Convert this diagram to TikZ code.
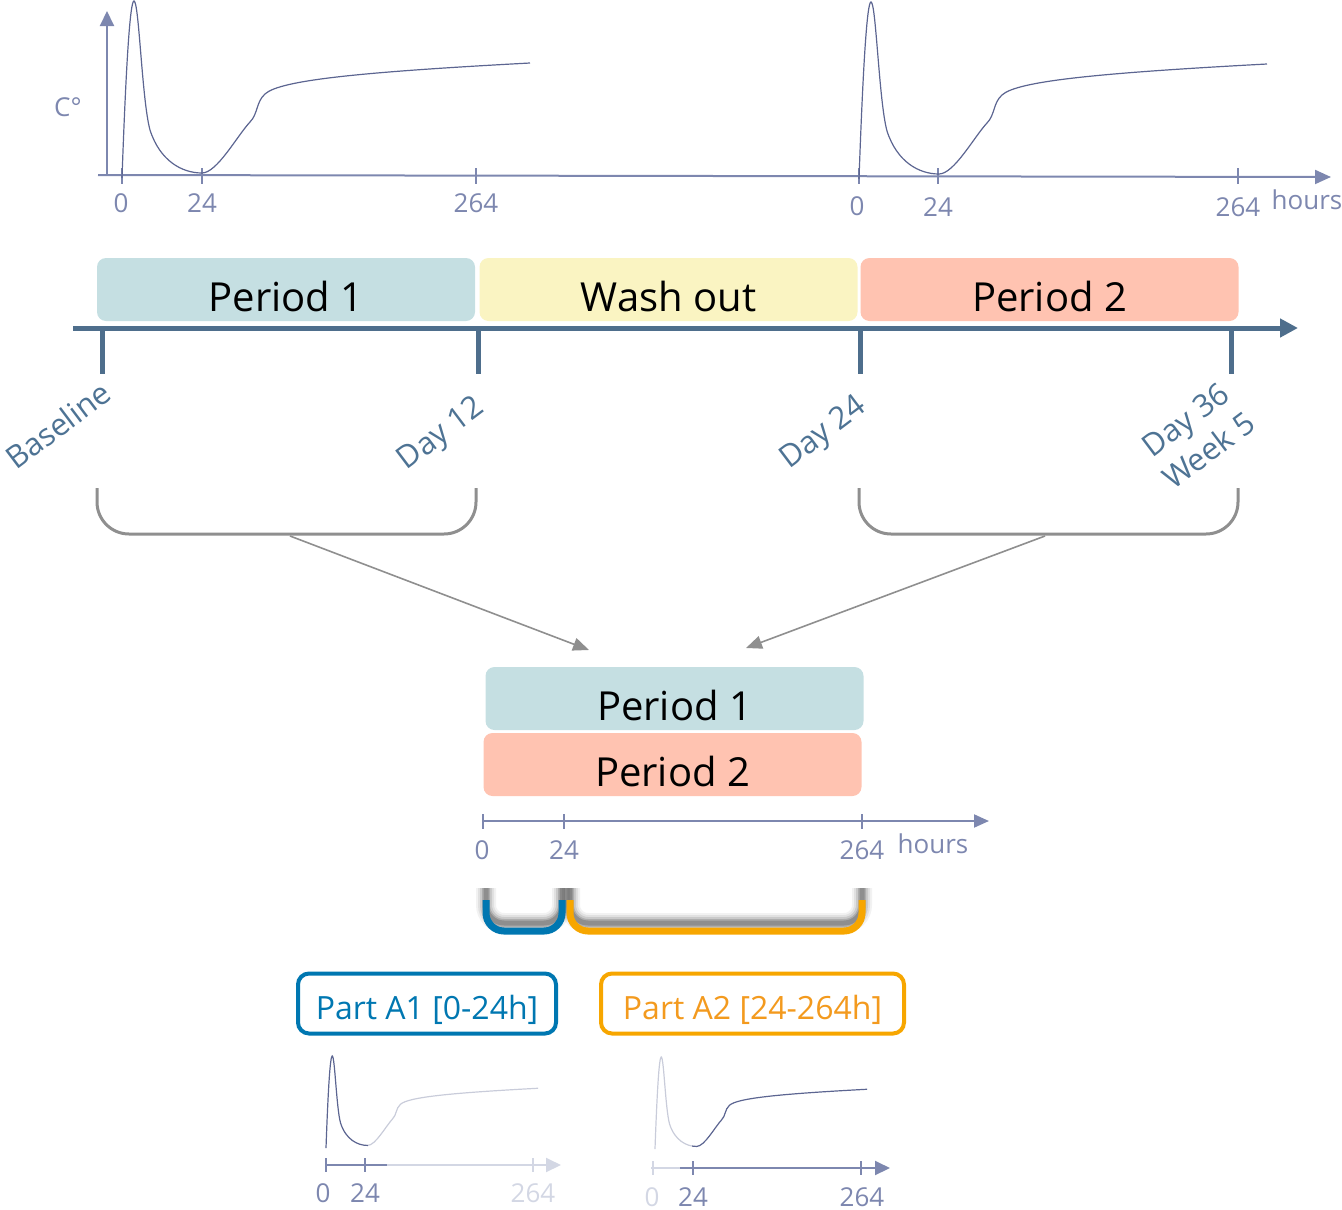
\documentclass[tikz,border=0pt]{standalone}
\usepackage{fontspec}
\setmainfont{Open Sans}
\usetikzlibrary{arrows.meta}

\definecolor{axiscol}{HTML}{7D87AF}
\definecolor{axislight}{HTML}{D3D7E4}
\definecolor{curvecol}{HTML}{5C6591}
\definecolor{curvelight}{HTML}{C9CCDA}
\definecolor{lineblue}{HTML}{4E6E8C}
\definecolor{daycol}{HTML}{4E7394}
\definecolor{bracketgray}{HTML}{8F8F8F}
\definecolor{pone}{HTML}{C5DFE2}
\definecolor{wash}{HTML}{FAF4C2}
\definecolor{ptwo}{HTML}{FFC3B1}
\definecolor{partblue}{HTML}{0077B1}
\definecolor{partorange}{HTML}{F7A600}
\definecolor{parttext}{HTML}{F39A1E}

\tikzset{
  pkcurve/.pic={
    \draw[line width=1.2pt, pic actions]
      (0,2) .. controls (4,-110) and (8,-175) .. (12,-175)
      .. controls (17,-175) and (20,-75) .. (28,-46)
      .. controls (38,-15) and (60,-3) .. (80,-3)
      .. controls (95,-3) and (115,-40) .. (128,-54)
      .. controls (136,-62) and (134,-74) .. (143,-82)
      .. controls (158,-96) and (240,-104) .. (408,-113);
  },
  periodbox/.style={rounded corners=9pt, minimum width=378pt, minimum height=63pt,
    inner sep=0pt, text height=43pt, text depth=0pt, text=black,
    font=\fontsize{40}{48}\selectfont},
  partbox/.style={rounded corners=11pt, line width=4pt, minimum height=60pt,
    inner sep=0pt, text height=32pt, text depth=0pt,
    font=\fontsize{32}{36}\selectfont},
  daylabel/.style={rotate=37, text=daycol, align=center,
    font=\fontsize{31}{39}\selectfont},
  axislabel/.style={text=axiscol, inner sep=0pt, font=\fontsize{26}{30}\selectfont},
  chartaxis/.style={draw=axiscol, line width=2pt},
  graybracket/.style={draw=bracketgray, line width=3pt, rounded corners=32pt},
  grayarrow/.style={draw=bracketgray, line width=1.6pt,
    -{Triangle[length=16pt,width=13pt]}},
  colbracket/.style={line width=7pt, rounded corners=18pt}
}

\begin{document}
\begin{tikzpicture}[x=1pt, y=-1pt]
\useasboundingbox (0,0) rectangle (1342,1210);

% ---------- top concentration chart ----------
\draw[chartaxis, -{Triangle[length=15pt,width=14pt]}] (107,176) -- (107,11);
\draw[chartaxis, -{Triangle[length=16pt,width=14pt]}] (98,175) -- (1331,177);
\foreach \x in {122,202,476,859,938,1238}
  \draw[chartaxis] (\x,168) -- (\x,184);
\pic[draw=curvecol] at (122,176) {pkcurve};
\pic[draw=curvecol] at (859,177) {pkcurve};
\node[axislabel] (cdeg) at (68,107) {C°};
\node[axislabel] (ta0) at (121,203) {0};
\node[axislabel] (ta24) at (202,203) {24};
\node[axislabel] (ta264) at (476,203) {264};
\node[axislabel] (tb0) at (857,206) {0};
\node[axislabel] (tb24) at (938,207) {24};
\node[axislabel] (tb264) at (1238,207) {264};
\node[axislabel] (thours) at (1307,200) {hours};

% ---------- study timeline ----------
\node[periodbox, fill=pone] (per1) at (286,289.5) {Period 1};
\node[periodbox, fill=wash] (wo) at (668.5,289.5) {Wash out};
\node[periodbox, fill=ptwo] (per2) at (1049.5,289.5) {Period 2};
\draw[draw=lineblue, line width=5pt, -{Triangle[length=18pt,width=18pt]}] (73,328) -- (1298,328);
\foreach \x in {102,478,860,1231}
  \draw[draw=lineblue, line width=5pt] (\x,328) -- (\x,374);
\node[daylabel] (base) at (58,425) {Baseline};
\node[daylabel] (d12) at (442,435) {Day 12};
\node[daylabel] (d24) at (824,434) {Day 24};
\node[daylabel] (d36) at (1197,435) {Day 36\\Week 5};

% ---------- grouping brackets and arrows ----------
\draw[graybracket] (97,488) -- (97,534) -- (476,534) -- (476,488);
\draw[graybracket] (859,488) -- (859,534) -- (1238,534) -- (1238,488);
\coordinate (lsrc) at (290,536);
\coordinate (rsrc) at (1045,536);
\coordinate (ltgt) at (589,650);
\coordinate (rtgt) at (746,648);
\draw[grayarrow] (lsrc) -- (ltgt);
\draw[grayarrow] (rsrc) -- (rtgt);

% ---------- pooled periods ----------
\node[periodbox, fill=pone] (mper1) at (674.5,698.5) {Period 1};
\node[periodbox, fill=ptwo] (mper2) at (672.5,764.5) {Period 2};

\draw[chartaxis, -{Triangle[length=15pt,width=13pt]}] (483,821) -- (989,821);
\foreach \x in {483,564,862}
  \draw[chartaxis] (\x,814) -- (\x,829);
\node[axislabel] (m0) at (482,850) {0};
\node[axislabel] (m24) at (564,850) {24};
\node[axislabel] (m264) at (862,850) {264};
\node[axislabel] (mhours) at (933,844) {hours};

% shaded part brackets
\begin{scope}[shift={(0,-8)}]
  \foreach \w/\o in {20/0.05, 16/0.07, 12/0.10, 8/0.14, 5/0.18}{
    \draw[colbracket, line width=\w pt, black, opacity=\o]
      (486,896) -- (486,931) -- (562,931) -- (562,896);
    \draw[colbracket, line width=\w pt, black, opacity=\o]
      (570,896) -- (570,931) -- (862,931) -- (862,896);
  }
\end{scope}
\draw[colbracket, draw=partblue] (486,900) -- (486,931) -- (562,931) -- (562,900);
\draw[colbracket, draw=partorange] (570,900) -- (570,931) -- (862,931) -- (862,900);

% ---------- part boxes ----------
\node[partbox, draw=partblue, text=partblue, minimum width=258pt] (pa1) at (427,1003.5) {Part A1 [0-24h]};
\node[partbox, draw=partorange, text=parttext, minimum width=303pt] (pa2) at (752.5,1003.5) {Part A2 [24-264h]};

% ---------- small chart, part A1 ----------
\begin{scope}
  \clip (300,1040) rectangle (368,1160);
  \pic[draw=curvecol, scale=0.52] at (326,1147) {pkcurve};
\end{scope}
\begin{scope}
  \clip (368,1040) rectangle (620,1160);
  \pic[draw=curvelight, scale=0.52] at (326,1147) {pkcurve};
\end{scope}
\draw[draw=axislight, line width=2pt, -{Triangle[length=15pt,width=14pt]}] (385,1165) -- (561,1165);
\draw[chartaxis] (325,1165) -- (387,1165);
\draw[chartaxis] (326,1158) -- (326,1172);
\draw[chartaxis] (365,1158) -- (365,1172);
\draw[draw=axislight, line width=2pt] (533,1158) -- (533,1172);
\node[axislabel] (sa0) at (323,1193) {0};
\node[axislabel] (sa24) at (365,1193) {24};
\node[axislabel, text=axislight] (sa264) at (533,1193) {264};

% ---------- small chart, part A2 ----------
\begin{scope}
  \clip (630,1040) rectangle (692,1160);
  \pic[draw=curvelight, scale=0.52] at (655,1148) {pkcurve};
\end{scope}
\begin{scope}
  \clip (692,1040) rectangle (950,1160);
  \pic[draw=curvecol, scale=0.52] at (655,1148) {pkcurve};
\end{scope}
\draw[draw=axislight, line width=2pt] (651,1168) -- (682,1168);
\draw[chartaxis, -{Triangle[length=15pt,width=14pt]}] (680,1168) -- (890,1168);
\draw[draw=axislight, line width=2pt] (653,1161) -- (653,1175);
\draw[chartaxis] (693,1161) -- (693,1175);
\draw[chartaxis] (861,1161) -- (861,1175);
\node[axislabel, text=axislight] (sb0) at (652,1197) {0};
\node[axislabel] (sb24) at (693,1197) {24};
\node[axislabel] (sb264) at (862,1197) {264};
\end{tikzpicture}
\end{document}
